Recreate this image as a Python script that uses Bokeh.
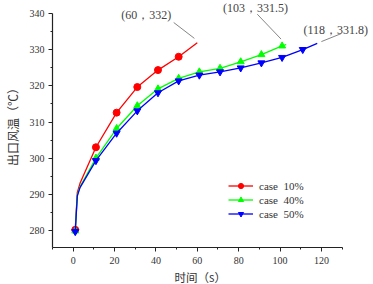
from bokeh.plotting import figure
from bokeh.models import Range1d, Label, Arrow, Legend, LegendItem, FixedTicker, Title
from bokeh.embed import file_html
from bokeh.resources import INLINE

# ---- data ----
t10_line = [1, 2, 3.3, 11, 21, 31, 41, 51, 60]
y10_line = [280.1, 290.5, 293.0, 303.0, 312.6, 319.7, 324.4, 328.1, 332.0]
t10_mark = [1, 11, 21, 31, 41, 51]
y10_mark = [280.1, 303.0, 312.6, 319.7, 324.4, 328.1]

t40_line = [1, 2, 3.3, 11, 21, 31, 41, 51, 61, 71, 81, 91, 101, 103]
y40_line = [279.8, 289.8, 292.0, 300.0, 308.2, 314.5, 319.2, 322.1, 323.9, 324.9, 326.7, 328.7, 331.1, 331.5]
t40_mark = [1, 11, 21, 31, 41, 51, 61, 71, 81, 91, 101]
y40_mark = [279.8, 300.0, 308.2, 314.5, 319.2, 322.1, 323.9, 324.9, 326.7, 328.7, 331.1]

t50_line = [1, 2, 3.3, 11, 21, 31, 41, 51, 61, 71, 81, 91, 101, 111, 118]
y50_line = [279.6, 289.5, 291.8, 299.3, 306.9, 313.1, 318.1, 321.4, 323.0, 323.9, 325.0, 326.4, 327.9, 330.1, 331.8]
t50_mark = [1, 11, 21, 31, 41, 51, 61, 71, 81, 91, 101, 111]
y50_mark = [279.6, 299.3, 306.9, 313.1, 318.1, 321.4, 323.0, 323.9, 325.0, 326.4, 327.9, 330.1]

series_names = ["case  10%", "case  40%", "case  50%"]
x_ticks = [0, 20, 40, 60, 80, 100, 120]
x_minor = [-10, 10, 30, 50, 70, 90, 110, 130]
y_ticks = [280, 290, 300, 310, 320, 330, 340]
y_minor = [285, 295, 305, 315, 325, 335]

ann_texts = ["(60，332)", "(103，331.5)", "(118，331.8)"]
ann_text_x = [23.3, 72.4, 111.3]
ann_text_y = [339.6, 341.7, 335.6]
ann_line_x0 = [48.6, 89.0, 129.5]
ann_line_y0 = [337.6, 339.9, 334.5]
ann_line_x1 = [58.6, 100.5, 120.0]
ann_line_y1 = [333.2, 333.0, 332.3]

SERIF = "Liberation Serif"
CJK = "Noto Sans CJK SC"
TXT = "#333333"

p = figure(width=373, height=284, output_backend="svg", toolbar_location=None,
           x_range=Range1d(-10, 145.2), y_range=Range1d(275.2, 343.7),
           min_border_left=47, min_border_right=0, min_border_top=0, min_border_bottom=36)
p.outline_line_color = None
p.xgrid.visible = False
p.ygrid.visible = False
p.background_fill_color = "white"
p.border_fill_color = "white"

for ax in (p.xaxis[0], p.yaxis[0]):
    ax.axis_line_color = "#222222"
    ax.axis_line_width = 1.2
    ax.major_tick_line_color = "#222222"
    ax.minor_tick_line_color = "#222222"
    ax.major_tick_out = 4
    ax.major_tick_in = 0
    ax.minor_tick_out = 2
    ax.minor_tick_in = 0
    ax.major_label_text_font = SERIF
    ax.major_label_text_font_size = "10px"
    ax.major_label_text_color = TXT
    ax.axis_label_text_font = CJK
    ax.axis_label_text_font_size = "12px"
    ax.axis_label_text_font_style = "normal"
    ax.axis_label_text_color = TXT

p.xaxis[0].major_label_standoff = 5
p.yaxis[0].major_label_standoff = 4
p.yaxis[0].axis_label_standoff = 6
p.xaxis[0].bounds = (-10, 130)
p.yaxis[0].bounds = (275.2, 340)
p.xaxis[0].ticker = FixedTicker(ticks=x_ticks, minor_ticks=x_minor)
p.yaxis[0].ticker = FixedTicker(ticks=y_ticks, minor_ticks=y_minor)
p.yaxis[0].axis_label = "出口风温（℃）"

xlabel = Title(text="时间（s）", align="left", offset=122, standoff=0,
               text_font=CJK, text_font_size="11.5px", text_font_style="normal",
               text_color=TXT)
p.add_layout(xlabel, "below")

colors = ["#FF0000", "#00FF00", "#0000FF"]
markers = ["circle", "triangle", "inverted_triangle"]
lines_data = [(t10_line, y10_line, t10_mark, y10_mark),
              (t40_line, y40_line, t40_mark, y40_mark),
              (t50_line, y50_line, t50_mark, y50_mark)]

items = []
for (tl, yl, tm, ym), c, m, name in zip(lines_data, colors, markers, series_names):
    lr = p.line(tl, yl, line_color=c, line_width=1.3)
    sr = p.scatter(tm, ym, marker=m, size=7, fill_color=c, line_color=c)
    items.append(LegendItem(label=name, renderers=[lr, sr]))

legend = Legend(items=items, location=(176, 27), border_line_color=None,
                background_fill_alpha=0, padding=0, margin=0, spacing=1,
                glyph_width=25, glyph_height=13, label_height=13, label_standoff=6,
                label_text_font=SERIF, label_text_font_size="11px", label_text_color=TXT)
p.add_layout(legend, "center")

for txt, tx, ty, x0, y0, x1, y1 in zip(ann_texts, ann_text_x, ann_text_y,
                                        ann_line_x0, ann_line_y0, ann_line_x1, ann_line_y1):
    p.add_layout(Label(x=tx, y=ty, text=txt, text_font=SERIF, text_font_size="12px",
                       text_color="#444444", text_baseline="middle", text_align="left"))
    p.add_layout(Arrow(x_start=x0, y_start=y0, x_end=x1, y_end=y1, end=None,
                       line_color="#666666", line_width=0.8))

open("out.html", "w").write(file_html(p, INLINE))
